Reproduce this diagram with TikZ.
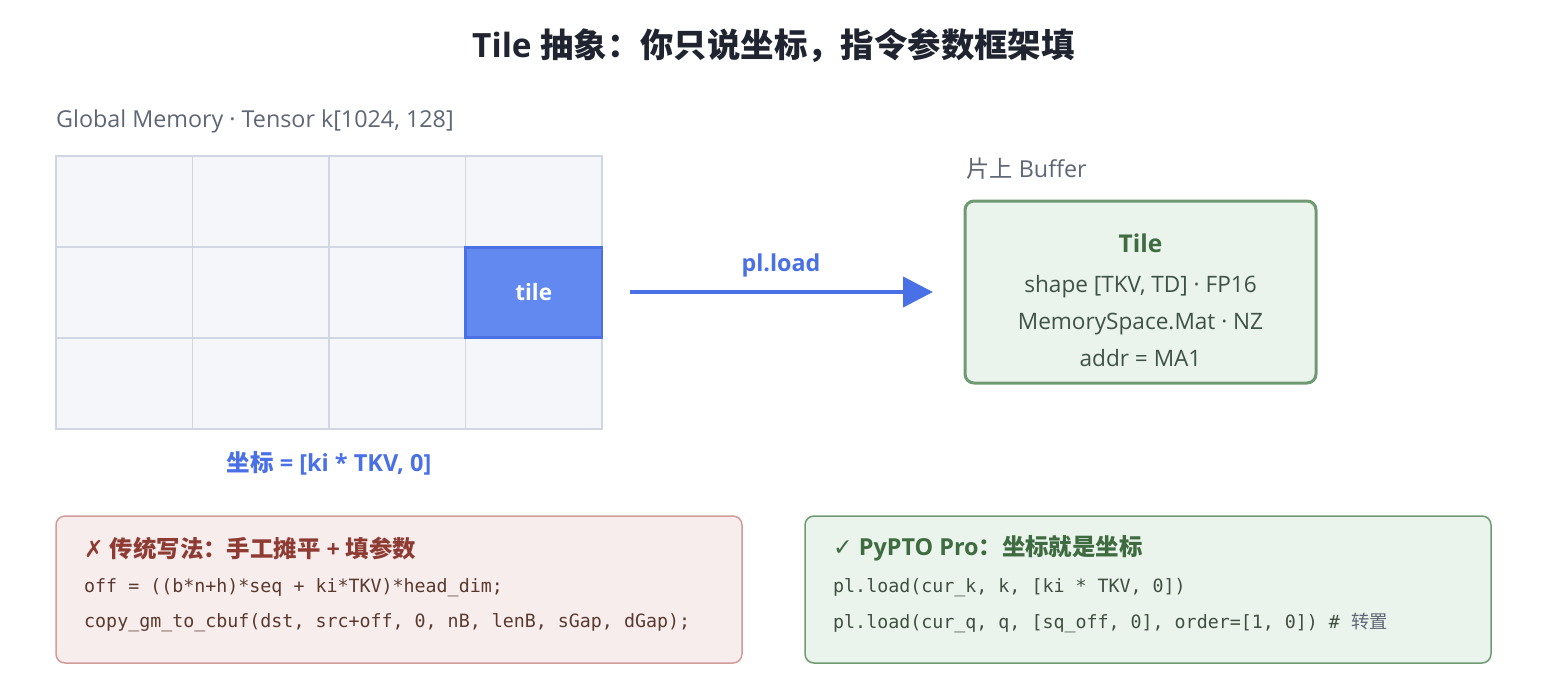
\documentclass[tikz,border=0pt]{standalone}
\usepackage{fontspec}
\setmainfont{Open Sans}
\setsansfont{Open Sans}
\setmonofont{DejaVu Sans Mono}
\newfontfamily\cjk{Noto Sans CJK SC}
\newfontfamily\sym{DejaVu Sans}
\usetikzlibrary{arrows.meta}
\definecolor{titlec}{HTML}{1F2430}
\definecolor{grayc}{HTML}{5F6675}
\definecolor{gridfill}{HTML}{F4F6FA}
\definecolor{gridline}{HTML}{D0D7E2}
\definecolor{bluec}{HTML}{4A70E6}
\definecolor{tilefill}{HTML}{6189F0}
\definecolor{gfill}{HTML}{EAF3EC}
\definecolor{gborder}{HTML}{6F9A72}
\definecolor{gtitle}{HTML}{3E6B3F}
\definecolor{gtext}{HTML}{3F5248}
\definecolor{rfill}{HTML}{F8EDED}
\definecolor{rborder}{HTML}{D29C98}
\definecolor{rtitle}{HTML}{8E3B33}
\definecolor{rcode}{HTML}{5A3A2E}
\definecolor{gcode}{HTML}{3F4F40}
\tikzset{
  cell/.style={draw=gridline, line width=1.5pt, fill=gridfill, minimum width=136.5pt, minimum height=91pt, inner sep=0pt, outer sep=0pt},
  tilecell/.style={draw=bluec, line width=2.5pt, fill=tilefill, minimum width=136.5pt, minimum height=90pt, inner sep=0pt, text=white, font=\fontsize{22.5}{26}\selectfont\bfseries},
  lbl/.style={inner sep=0pt, anchor=west, text=grayc, font=\fontsize{23.3}{27}\selectfont},
  codeg/.style={inner sep=0pt, anchor=west, text=gcode, font=\fontsize{18.3}{22}\ttfamily},
  coder/.style={inner sep=0pt, anchor=west, text=rcode, font=\fontsize{18.3}{22}\ttfamily},
  panel/.style={rounded corners=9pt, line width=1.5pt},
}
\begin{document}
\begin{tikzpicture}[x=1pt,y=-1pt]
\useasboundingbox[fill=white] (0,0) rectangle (1547,693);
% title
\node[inner sep=0pt, text=titlec, font=\fontsize{33.4}{38}\selectfont\bfseries] (title) at (773.5,46) {Tile {\cjk 抽象：你只说坐标，指令参数框架填}};
% global memory label
\node[lbl] (gmlabel) at (56,121.5) {Global Memory · Tensor k[1024, 128]};
% grid
\foreach \r in {0,1,2}{
  \foreach \c in {0,1,2,3}{
    \node[cell] (c\r\c) at ({56+68.25+136.5*\c},{156+45.5+91*\r}) {};
  }
}
\node[tilecell] (tile) at (c13) {tile};
% coordinate label
\node[inner sep=0pt, text=bluec, font=\fontsize{23.5}{27}\selectfont\bfseries] (coord) at (329,463.5) {{\cjk 坐标} = [ki * TKV, 0]};
% arrow
\coordinate (astart) at (630,292);
\node[inner sep=0pt, text=bluec, font=\fontsize{23.3}{27}\selectfont\bfseries] (plload) at (781,265) {pl.load};
% buffer label
\node[lbl] (buflabel) at (966,169) {{\cjk 片上} Buffer};
% tile box
\node[panel, draw=gborder, line width=3pt, fill=gfill, minimum width=351pt, minimum height=182pt, inner sep=0pt] (tbox) at (1140.5,292) {};
\coordinate (aend) at (933,292);
\draw[bluec, line width=4pt, -{Triangle[length=30pt,width=30pt]}] (astart) -- (aend);
\node[inner sep=0pt, text=gtitle, font=\fontsize{24.5}{28}\selectfont\bfseries] (ttitle) at (1140.5,243) {Tile};
\node[inner sep=0pt, text=gtext, font=\fontsize{22.6}{26}\selectfont] (t1) at (1140.5,286.5) {shape [TKV, TD] · FP16};
\node[inner sep=0pt, text=gtext, font=\fontsize{22.6}{26}\selectfont] (t2) at (1140.5,324.5) {MemorySpace.Mat · NZ};
\node[inner sep=0pt, text=gtext, font=\fontsize{22.6}{26}\selectfont] (t3) at (1140.5,358.5) {addr = MA1};
% bottom left panel
\node[panel, draw=rborder, fill=rfill, minimum width=686pt, minimum height=147pt, inner sep=0pt] (rbox) at (399,589.5) {};
\node[inner sep=0pt, anchor=west, text=rtitle, font=\fontsize{23.4}{27}\selectfont\bfseries] (rtitle) at (84,548.5) {{\sym ✗} {\cjk 传统写法：手工摊平} + {\cjk 填参数}};
\node[coder] (r1) at (84,587.5) {off = ((b*n+h)*seq + ki*TKV)*head\_dim;};
\node[coder] (r2) at (84,622.5) {copy\_gm\_to\_cbuf(dst, src+off, 0, nB, lenB, sGap, dGap);};
% bottom right panel
\node[panel, draw=gborder, fill=gfill, minimum width=686pt, minimum height=147pt, inner sep=0pt] (gbox) at (1148,589.5) {};
\node[inner sep=0pt, anchor=west, text=gtitle, font=\fontsize{23.4}{27}\selectfont\bfseries] (gtitle) at (833,548.5) {{\sym ✓} PyPTO Pro{\cjk ：坐标就是坐标}};
\node[codeg] (g1) at (833,587.5) {pl.load(cur\_k, k, [ki * TKV, 0])};
\node[codeg] (g2) at (833,622.5) {pl.load(cur\_q, q, [sq\_off, 0], order=[1, 0]) \# {\cjk\color{grayc}转置}};
\end{tikzpicture}
\end{document}
